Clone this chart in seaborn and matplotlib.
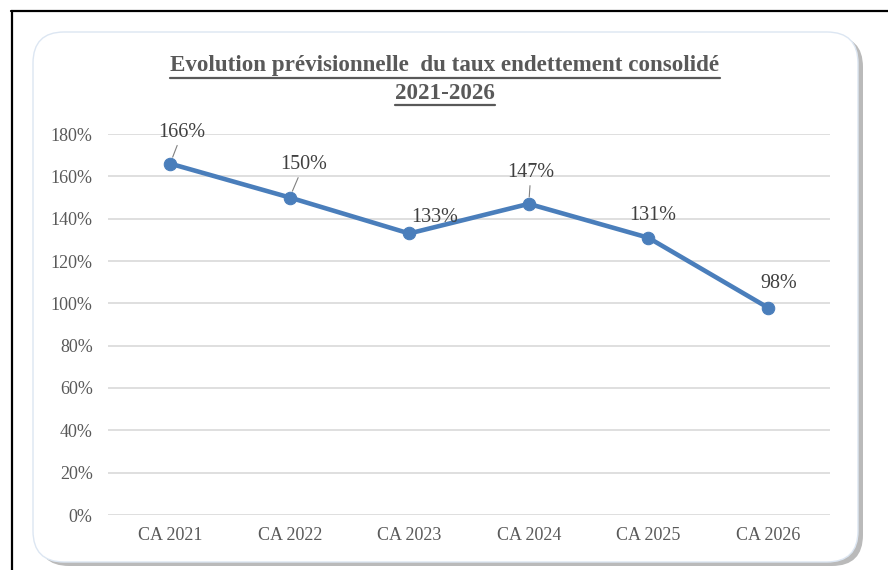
import matplotlib
matplotlib.use("Agg")
from matplotlib import pyplot as plt
from matplotlib.patches import FancyBboxPatch
from matplotlib.lines import Line2D
import seaborn as sns
import pandas as pd

# data
categories = ["CA 2021", "CA 2022", "CA 2023", "CA 2024", "CA 2025", "CA 2026"]
taux = [166, 150, 133, 147, 131, 98]
labels = ["166%", "150%", "133%", "147%", "131%", "98%"]
y_ticks = [0, 20, 40, 60, 80, 100, 120, 140, 160, 180]

sns.set_style("white")
plt.rcParams['font.family'] = ['Liberation Serif', 'DejaVu Serif']

W, H = 888, 570
fig = plt.figure(figsize=(W / 100, H / 100), dpi=100)

# black frame (top and left only, screenshot crop)
fig.add_artist(Line2D([11 / W, 1], [1 - 10.5 / H, 1 - 10.5 / H], color="black", lw=1.6))
fig.add_artist(Line2D([11.5 / W, 11.5 / W], [0, 1 - 10.5 / H], color="black", lw=1.6))

# rounded card with shadow
shadow = FancyBboxPatch((38 / W, 1 - 566 / H), 825 / W, 530 / H,
                        boxstyle="round,pad=0,rounding_size=0.035",
                        transform=fig.transFigure, facecolor="#8c8c8c",
                        edgecolor="none", alpha=0.6, mutation_aspect=W / H, zorder=-3)
fig.add_artist(shadow)
card = FancyBboxPatch((33 / W, 1 - 562 / H), 825 / W, 530 / H,
                      boxstyle="round,pad=0,rounding_size=0.035",
                      transform=fig.transFigure, facecolor="white",
                      edgecolor="#dce6f2", lw=1, mutation_aspect=W / H, zorder=-2)
fig.add_artist(card)

ax = fig.add_axes([108 / W, 55 / H, (830 - 108) / W, (515 - 134) / H])
ax.set_facecolor("none")
ax.set_zorder(2)

df = pd.DataFrame({"cat": categories, "taux": taux})
sns.lineplot(data=df, x="cat", y="taux", ax=ax, color="#4a7ebb", lw=3.3,
             marker="o", markersize=9, markeredgecolor="#4a7ebb", sort=False)

ax.set_xlim(-0.52, 5.52)
ax.set_ylim(0, 180)
ax.set_yticks(y_ticks)
ax.set_yticklabels([f"{v}%" for v in y_ticks])
ax.yaxis.grid(True, color="#d9d9d9", lw=1.2)
ax.set_axisbelow(True)
for s in ax.spines.values():
    s.set_visible(False)
ax.tick_params(axis="both", length=0, labelsize=13, labelcolor="#595959")
ax.tick_params(axis="y", pad=11)
ax.tick_params(axis="x", pad=9)
ax.set_xlabel("")
ax.set_ylabel("")

# data labels with small leader lines
offsets = [(8.6, 22.3), (10, 23.5), (18, 11.5), (1.5, 22.3), (3, 16), (8, 17)]
leaders = [True, True, False, True, False, False]
for i, (v, lab) in enumerate(zip(taux, labels)):
    dx, dy = offsets[i]
    ax.annotate(lab, xy=(i, v), xytext=(dx, dy), textcoords="offset points",
                ha="center", va="center", fontsize=14.5, color="#404040",
                arrowprops=dict(arrowstyle="-", color="#808080", lw=0.8,
                                shrinkA=0, shrinkB=5) if leaders[i] else None)

# underlined bold title
t1 = fig.text(445 / W, 1 - 66 / H, "Evolution prévisionnelle  du taux endettement consolidé",
              ha="center", va="center", fontsize=16.6, fontweight="bold", color="#595959")
t2 = fig.text(445 / W, 1 - 93 / H, "2021-2026", ha="center", va="center",
              fontsize=16.6, fontweight="bold", color="#595959")
r = fig.canvas.get_renderer()
for t, yline in [(t1, 78), (t2, 105)]:
    bb = t.get_window_extent(r)
    fig.add_artist(Line2D([bb.x0 / W, bb.x1 / W], [1 - yline / H, 1 - yline / H],
                          color="#595959", lw=1.6))

fig.savefig("out.png", dpi=100)
